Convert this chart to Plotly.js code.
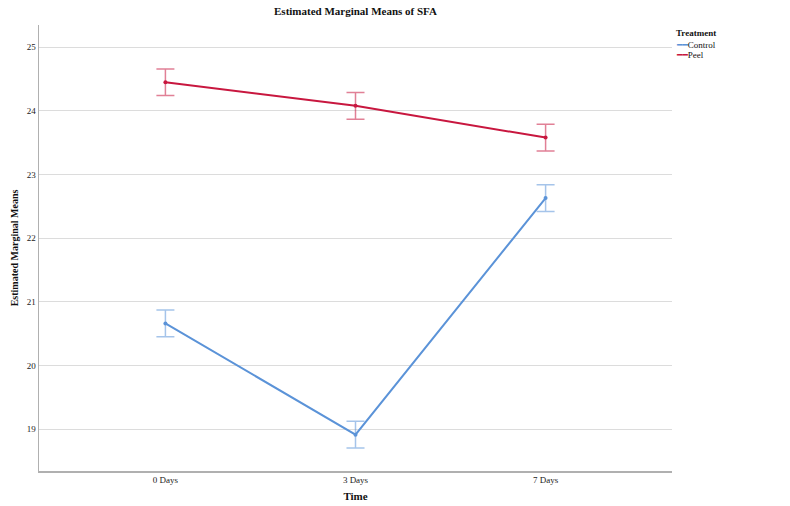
<!DOCTYPE html>
<html>
<head>
<meta charset="utf-8">
<script src="https://cdn.plot.ly/plotly-3.0.1.min.js"></script>
<style>html,body{margin:0;padding:0;background:#fff;}#chart{width:790px;height:506px;}</style>
</head>
<body>
<div id="chart"></div>
<script>
var timeLabels = ["0 Days", "3 Days", "7 Days"];
var controlMeans = [20.66, 18.91, 22.63];
var controlErr = [0.21, 0.21, 0.21];
var peelMeans = [24.45, 24.08, 23.58];
var peelErr = [0.21, 0.21, 0.21];
var yTicks = [19, 20, 21, 22, 23, 24, 25];
var seriesNames = ["Control", "Peel"];
var seriesColors = ["#5b93d8", "#c8173f"];

var serif = "Liberation Serif, Times New Roman, serif";

var traces = [
  {
    name: seriesNames[0], x: timeLabels, y: controlMeans, type: "scatter", mode: "lines+markers",
    line: {color: seriesColors[0], width: 2},
    marker: {color: seriesColors[0], size: 4},
    error_y: {type: "data", array: controlErr, visible: true, color: "rgba(91,147,216,0.55)", thickness: 1.5, width: 9}
  },
  {
    name: seriesNames[1], x: timeLabels, y: peelMeans, type: "scatter", mode: "lines+markers",
    line: {color: seriesColors[1], width: 2},
    marker: {color: seriesColors[1], size: 4},
    error_y: {type: "data", array: peelErr, visible: true, color: "rgba(200,23,63,0.55)", thickness: 1.5, width: 9}
  }
];

var legendAnn = [
  {text: "<b>Treatment</b>", x: 1.0, y: 33},
  {text: "<span style='color:" + seriesColors[0] + ";font-family:DejaVu Sans'>━━</span>" + seriesNames[0], x: 1.0, y: 45},
  {text: "<span style='color:" + seriesColors[1] + ";font-family:DejaVu Sans'>━━</span>" + seriesNames[1], x: 1.0, y: 55}
].map(function (a) {
  return {
    text: a.text, xref: "paper", yref: "paper", x: a.x + 0.003, xanchor: "left",
    y: 1 - (a.y - 25) / 446, yanchor: "middle", showarrow: false,
    font: {family: serif, size: 9, color: "#111"}
  };
});

var layout = {
  width: 790, height: 506,
  margin: {l: 39, r: 118, t: 25, b: 35},
  paper_bgcolor: "#fff", plot_bgcolor: "#fff",
  font: {family: serif, size: 9, color: "#222"},
  title: {text: "<b>Estimated Marginal Means of SFA</b>", font: {family: serif, size: 11, color: "#111"}, x: 0.45, xanchor: "center", y: 0.985, yanchor: "top"},
  xaxis: {
    type: "category", range: [-0.665, 2.665],
    showgrid: false, zeroline: false,
    showline: true, linecolor: "#b0b0b0", linewidth: 1.5,
    ticks: "", tickfont: {family: serif, size: 9, color: "#222"},
    title: {text: "<b>Time</b>", font: {family: serif, size: 11, color: "#111"}, standoff: 8}
  },
  yaxis: {
    range: [18.34, 25.35], tickvals: yTicks,
    showgrid: true, gridcolor: "#dcdcdc", gridwidth: 1,
    zeroline: false, showline: true, linecolor: "#b0b0b0", linewidth: 1.5,
    ticks: "", tickfont: {family: serif, size: 9, color: "#222"},
    title: {text: "<b>Estimated Marginal Means</b>", font: {family: serif, size: 10, color: "#111"}, standoff: 6}
  },
  showlegend: false,
  annotations: legendAnn
};

Plotly.newPlot("chart", traces, layout, {displayModeBar: false, staticPlot: true});
</script>
</body>
</html>
